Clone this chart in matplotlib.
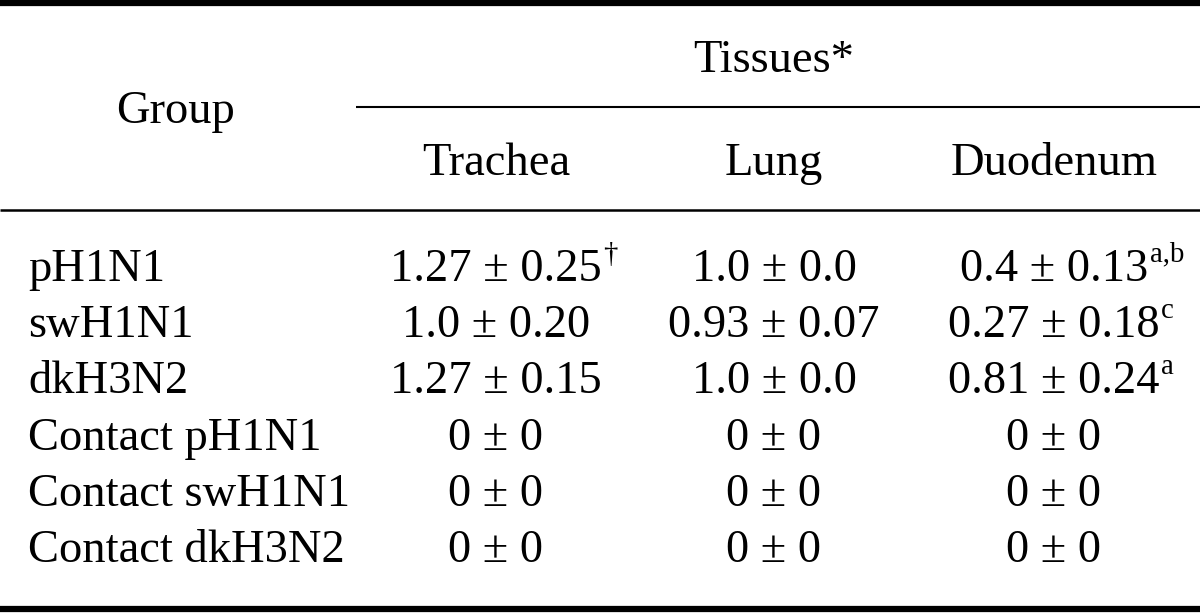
import matplotlib.pyplot as plt

# table content
groups = ["pH1N1", "swH1N1", "dkH3N2",
          "Contact pH1N1", "Contact swH1N1", "Contact dkH3N2"]
tissues = ["Trachea", "Lung", "Duodenum"]
trachea = ["1.27 ± 0.25", "1.0 ± 0.20", "1.27 ± 0.15", "0 ± 0", "0 ± 0", "0 ± 0"]
lung = ["1.0 ± 0.0", "0.93 ± 0.07", "1.0 ± 0.0", "0 ± 0", "0 ± 0", "0 ± 0"]
duodenum = ["0.4 ± 0.13", "0.27 ± 0.18", "0.81 ± 0.24", "0 ± 0", "0 ± 0", "0 ± 0"]
trachea_sup = ["†", "", "", "", "", ""]
lung_sup = ["", "", "", "", "", ""]
duodenum_sup = ["a,b", "c", "a", "", "", ""]

plt.rcParams['font.family'] = ['Liberation Serif', 'DejaVu Serif']
FS = 33.5

fig = plt.figure(figsize=(12, 6.15), dpi=100)
ax = fig.add_axes([0, 0, 1, 1])
ax.set_xlim(0, 1200)
ax.set_ylim(615, 0)
ax.axis('off')

# rules
ax.plot([0, 1200], [3, 3], color='black', lw=4.5, solid_capstyle='butt')
ax.plot([356, 1200], [107, 107], color='black', lw=1.5, solid_capstyle='butt')
ax.plot([0, 1200], [210, 210], color='black', lw=1.8, solid_capstyle='butt')
ax.plot([0, 1200], [609, 609], color='black', lw=4.5, solid_capstyle='butt')

# header
col_x = [496, 774, 1054]
ax.text(175, 123, "Group", fontsize=FS, ha='center', va='baseline')
ax.text(774, 72, "Tissues*", fontsize=FS, ha='center', va='baseline')
for x, name in zip(col_x, tissues):
    ax.text(x, 175, name, fontsize=FS, ha='center', va='baseline')

# body
row0, step = 281, 56.2
cols = [(trachea, trachea_sup), (lung, lung_sup), (duodenum, duodenum_sup)]
for i, g in enumerate(groups):
    yb = row0 + i * step
    ax.text(28, yb, g, fontsize=FS, ha='left', va='baseline')
    for x, (vals, sups) in zip(col_x, cols):
        t = ax.text(x, yb, vals[i], fontsize=FS, ha='center', va='baseline')
        if sups[i]:
            ax.annotate(sups[i], xy=(1, 1), xycoords=t, xytext=(1, 5),
                        textcoords='offset points', fontsize=FS * 0.62,
                        ha='left', va='top')

fig.savefig("out.png", dpi=100)
